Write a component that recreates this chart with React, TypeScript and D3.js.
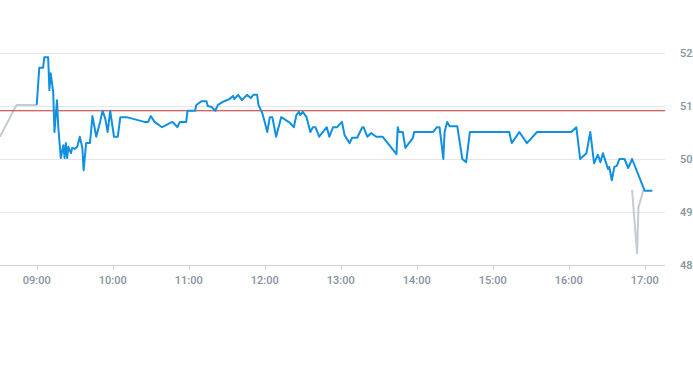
import React, { useEffect, useRef } from 'react';
import * as d3 from 'd3';

const width = 693;
const height = 365;
const plotRight = 665;
const plotTop = 53;
const plotBottom = 265;

// price (blue)
const times = [
  '09:00', '09:02', '09:05', '09:06', '09:09', '09:10', '09:11', '09:13', '09:14', '09:16',
  '09:17', '09:19', '09:21', '09:22', '09:23', '09:24', '09:25', '09:27', '09:28', '09:30',
  '09:32', '09:34', '09:36', '09:37', '09:39', '09:42', '09:44', '09:47', '09:50', '09:52',
  '09:54', '09:56', '09:58', '10:01', '10:04', '10:06', '10:11', '10:25', '10:28', '10:30',
  '10:33', '10:39', '10:47', '10:48', '10:51', '10:53', '10:58', '10:59', '11:05', '11:06',
  '11:10', '11:14', '11:15', '11:18', '11:21', '11:23', '11:28', '11:32', '11:35', '11:36',
  '11:39', '11:42', '11:46', '11:49', '11:51', '11:54', '11:55', '11:58', '12:00', '12:02',
  '12:04', '12:06', '12:09', '12:13', '12:20', '12:23', '12:25', '12:27', '12:28', '12:30',
  '12:33', '12:36', '12:38', '12:40', '12:43', '12:49', '12:51', '12:54', '12:57', '13:01',
  '13:03', '13:07', '13:09', '13:13', '13:17', '13:18', '13:21', '13:24', '13:28', '13:33',
  '13:44', '13:45', '13:46', '13:49', '13:51', '13:57', '13:58', '14:13', '14:16', '14:18',
  '14:21', '14:22', '14:24', '14:26', '14:32', '14:36', '14:39', '14:42', '15:13', '15:15',
  '15:21', '15:27', '15:35', '16:02', '16:06', '16:09', '16:14', '16:17', '16:20', '16:23',
  '16:25', '16:27', '16:31', '16:32', '16:34', '16:36', '16:38', '16:40', '16:44', '16:47',
  '16:50', '17:00', '17:06',
];
const prices = [
  51.02, 51.72, 51.72, 51.92, 51.92, 51.30, 51.62, 51.26, 50.51, 51.11,
  50.60, 50.02, 50.26, 50.02, 50.30, 50.02, 50.23, 50.11, 50.21, 50.19,
  50.23, 50.42, 50.21, 49.79, 50.30, 50.30, 50.81, 50.42, 50.70, 50.91,
  50.77, 50.51, 50.91, 50.42, 50.42, 50.79, 50.79, 50.70, 50.70, 50.81,
  50.70, 50.60, 50.70, 50.68, 50.60, 50.70, 50.70, 50.91, 50.91, 51.02,
  51.09, 51.09, 51.00, 50.98, 50.91, 51.02, 51.09, 51.13, 51.19, 51.13,
  51.21, 51.11, 51.21, 51.15, 51.21, 51.21, 51.02, 50.87, 50.70, 50.51,
  50.79, 50.79, 50.42, 50.79, 50.68, 50.60, 50.83, 50.89, 50.83, 50.89,
  50.79, 50.51, 50.60, 50.60, 50.42, 50.60, 50.42, 50.60, 50.60, 50.70,
  50.45, 50.30, 50.40, 50.40, 50.60, 50.60, 50.42, 50.49, 50.42, 50.42,
  50.09, 50.60, 50.51, 50.51, 50.21, 50.40, 50.51, 50.51, 50.60, 50.60,
  50.00, 50.51, 50.70, 50.62, 50.62, 50.00, 49.94, 50.51, 50.51, 50.30,
  50.51, 50.30, 50.51, 50.51, 50.60, 50.00, 50.11, 50.51, 49.92, 50.08,
  49.94, 50.11, 49.81, 49.85, 49.60, 49.85, 49.87, 50.00, 50.00, 49.83,
  50.00, 49.40, 49.40,
];

// grey series: before the open and the late dip
const preTimes = ['08:31', '08:44', '09:00'];
const prePrices = [50.42, 51.02, 51.02];
const tailTimes = ['16:50', '16:54', '16:55', '16:59'];
const tailPrices = [49.42, 48.21, 49.08, 49.42];

const refPrice = 50.91;
const yTicks = [48, 49, 50, 51, 52];
const xTicks = ['09:00', '10:00', '11:00', '12:00', '13:00', '14:00', '15:00', '16:00', '17:00'];
const domainStart = '08:31';
const domainEnd = '17:16';

const parseTime = d3.timeParse('%H:%M');

function App() {
  const ref = useRef<SVGSVGElement>(null);

  useEffect(() => {
    const svg = d3.select(ref.current);
    svg.selectAll('*').remove();

    const x = d3.scaleTime()
      .domain([parseTime(domainStart)!, parseTime(domainEnd)!])
      .range([0, plotRight]);
    const y = d3.scaleLinear().domain([48, 52]).range([plotBottom, plotTop]);

    const font = 'Roboto, sans-serif';
    const labelColor = '#8592a1';

    // grid
    svg.append('g')
      .selectAll('line')
      .data(yTicks)
      .enter().append('line')
      .attr('x1', 0)
      .attr('x2', plotRight)
      .attr('y1', (d) => y(d))
      .attr('y2', (d) => y(d))
      .attr('stroke', (d) => (d === 48 ? '#ccd3da' : '#e3e6ea'))
      .attr('stroke-width', 1)
      .attr('shape-rendering', 'crispEdges');

    svg.append('g')
      .selectAll('text')
      .data(yTicks)
      .enter().append('text')
      .attr('x', 680)
      .attr('y', (d) => y(d) + 4)
      .attr('fill', labelColor)
      .style('font-family', font)
      .style('font-size', '11px')
      .style('font-weight', 500)
      .text((d) => d);

    // x axis ticks
    const xg = svg.append('g');
    xg.selectAll('line')
      .data(xTicks)
      .enter().append('line')
      .attr('x1', (d) => Math.round(x(parseTime(d)!)) + 0.5)
      .attr('x2', (d) => Math.round(x(parseTime(d)!)) + 0.5)
      .attr('y1', plotBottom)
      .attr('y2', plotBottom + 5)
      .attr('stroke', '#ccd3da');
    xg.selectAll('text')
      .data(xTicks)
      .enter().append('text')
      .attr('x', (d) => x(parseTime(d)!))
      .attr('y', plotBottom + 19)
      .attr('text-anchor', 'middle')
      .attr('fill', labelColor)
      .style('font-family', font)
      .style('font-size', '11px')
      .style('font-weight', 500)
      .text((d) => d);

    const line = d3.line<[string, number]>()
      .x((d) => x(parseTime(d[0])!))
      .y((d) => y(d[1]));

    const grey = '#c3cbd3';
    svg.append('path')
      .datum(d3.zip(preTimes, prePrices) as [string, number][])
      .attr('fill', 'none')
      .attr('stroke', grey)
      .attr('stroke-width', 2)
      .attr('d', line);
    svg.append('path')
      .datum(d3.zip(tailTimes, tailPrices) as [string, number][])
      .attr('fill', 'none')
      .attr('stroke', grey)
      .attr('stroke-width', 2)
      .attr('d', line);

    // reference line
    svg.append('line')
      .attr('x1', 0)
      .attr('x2', plotRight)
      .attr('y1', y(refPrice))
      .attr('y2', y(refPrice))
      .attr('stroke', '#c0302b')
      .attr('stroke-width', 1);

    svg.append('path')
      .datum(d3.zip(times, prices) as [string, number][])
      .attr('fill', 'none')
      .attr('stroke', '#1190e0')
      .attr('stroke-width', 2)
      .attr('stroke-linejoin', 'round')
      .attr('d', line);
  }, []);

  return (
    <div style={{ position: 'absolute', left: 0, top: 0 }}>
      <svg ref={ref} width={width} height={height} style={{ display: 'block', background: '#fff' }} />
    </div>
  );
}

export default App;
